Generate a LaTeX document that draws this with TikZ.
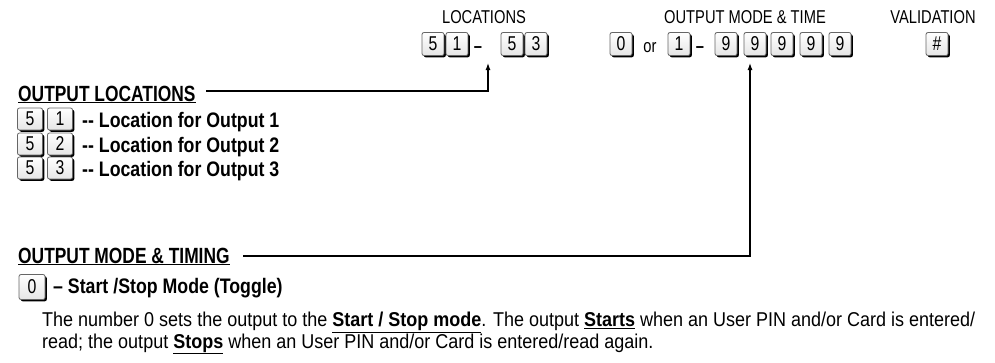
\documentclass[tikz,border=0pt]{standalone}
\usepackage{fontspec}
\setmainfont{Liberation Sans}[FakeStretch=0.79]
\newfontfamily\widefont{Liberation Sans}[FakeStretch=0.9]
\newfontfamily\rowfont{Liberation Sans}[FakeStretch=0.845]
\newcommand\tightlines{\lineskiplimit=-100pt\relax}
\usetikzlibrary{arrows.meta, positioning, shadows}

\begin{document}
\begin{tikzpicture}[
    x=1pt, y=-1pt,
    keycap/.style={rectangle, rounded corners=2pt, minimum width=22pt, minimum height=23pt, inner sep=0pt, draw=black!60, line width=0.8pt, top color=white, bottom color=black!10, general shadow={fill=black, shadow xshift=1.8pt, shadow yshift=-1.8pt}, font=\fontsize{20}{20}\selectfont},
    toplabel/.style={inner sep=0pt, anchor=base, font=\fontsize{18.6}{20}\selectfont},
    heading/.style={inner sep=0pt, anchor=base west, font=\fontsize{22}{24}\selectfont\bfseries},
    rowtext/.style={inner sep=0pt, anchor=base west, font=\rowfont\fontsize{21}{24}\selectfont\bfseries},
    bodytext/.style={inner sep=0pt, anchor=base west, align=left, font=\widefont\fontsize{20}{20}\selectfont},
    arrow/.style={line width=1.2pt, -{Latex[length=7pt, width=5pt]}}
]
    \useasboundingbox (0,0) rectangle (995,362);
    % top row
    \node[toplabel] (loclabel) at (484,23) {LOCATIONS};
    \node[toplabel] (modelabel) at (745,23) {OUTPUT MODE \& TIME};
    \node[toplabel] (vallabel) at (933,23) {VALIDATION};
    \node[keycap] (firstfive) at (433,44) {5};
    \node[keycap] (firstone) at (457,44) {1};
    \node[toplabel] (locdash) at (478,52) {\bfseries --};
    \node[keycap] (lastfive) at (512,44) {5};
    \node[keycap] (lastthree) at (536,44) {3};
    \node[keycap] (zero) at (621,44) {0};
    \node[toplabel] (orword) at (650,52) {or};
    \node[keycap] (one) at (679,44) {1};
    \node[toplabel] (modedash) at (700,52) {\bfseries --};
    \foreach \x [count=\i] in {726,755,782,811,840}
        \node[keycap] (nine\i) at (\x,44) {9};
    \node[keycap] (hash) at (937,44) {\#};
    % output locations
    \node[heading] (loctitle) at (18,101) {\underline{OUTPUT LOCATIONS}};
    \foreach \d/\y in {1/119, 2/144, 3/168} {
        \node[keycap, minimum width=25pt, minimum height=22pt] (five\d) at (30,\y) {5};
        \node[keycap, minimum width=25pt, minimum height=22pt] (loc\d) at (60,\y) {\d};
        \node[rowtext] (loctext\d) at (82,\y+8) {-{}- Location for Output \d};
    }
    \coordinate (locstart) at (206,91);
    \coordinate (locjoin) at (488,91);
    \coordinate (loctip) at (488,63);
    \draw[arrow] (locstart) -- (locjoin) -- (loctip);
    % output mode and timing
    \node[heading] (modetitle) at (18,263) {\underline{OUTPUT MODE \& TIMING}};
    \node[keycap, minimum width=26pt, minimum height=25pt] (togglekey) at (32,287) {0};
    \node[rowtext] (toggletext) at (53,293) {– Start /Stop Mode (Toggle)};
    \coordinate (modestart) at (243,256);
    \coordinate (modejoin) at (750,256);
    \coordinate (modetip) at (750,63);
    \draw[arrow] (modestart) -- (modejoin) -- (modetip);
    \node[bodytext] (para) at (42,348) {\tightlines The number 0 sets the output to the \textbf{\underline{Start / Stop mode}}. The output \textbf{\underline{Starts}} when an User PIN and/or Card is entered/\\read; the output \textbf{\underline{Stops}} when an User PIN and/or Card is entered/read again.};
\end{tikzpicture}
\end{document}
